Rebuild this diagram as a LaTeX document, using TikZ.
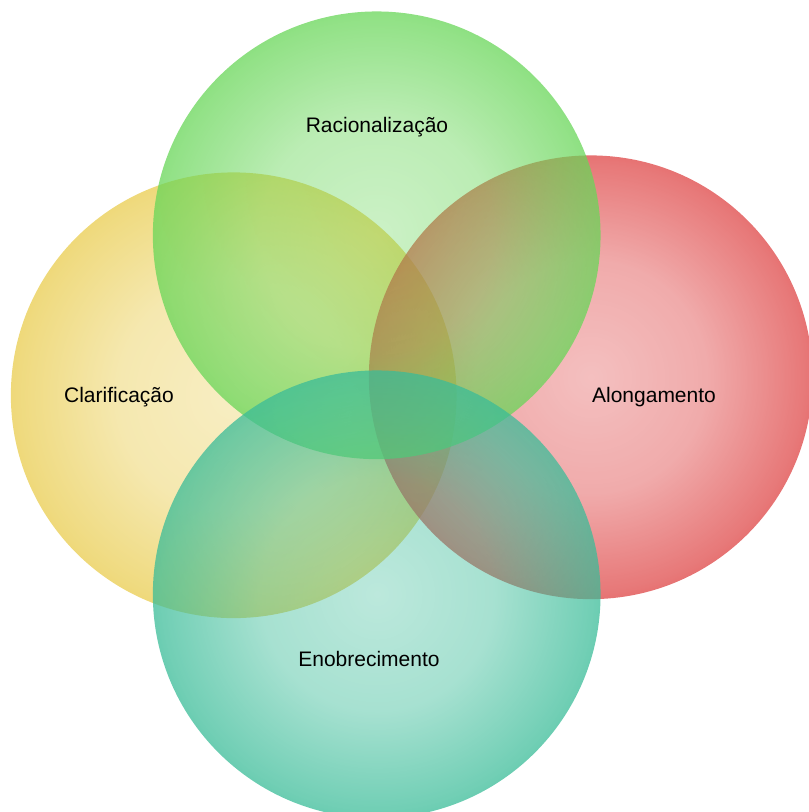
\documentclass[tikz,border=0pt]{standalone}
\usepackage{fontspec}
\setmainfont{Liberation Sans}
\usetikzlibrary{fadings}

% opacity mask: fairly clear in the middle, opaque at the rim
% (a fitted fading puts the disc rim at about 35bp)
\pgfdeclareradialshading{ballmask}{\pgfpointorigin}{%
  color(0bp)=(black!66); color(13bp)=(black!55); color(24bp)=(black!28);
  color(30bp)=(black!6); color(33bp)=(black!0); color(50bp)=(black!0)}
\pgfdeclarefading{ballfade}{\pgfuseshading{ballmask}}

\definecolor{clarY}{RGB}{233,204,78}
\definecolor{racG}{RGB}{104,214,88}
\definecolor{alonR}{RGB}{222,68,68}
\definecolor{enobT}{RGB}{58,188,152}

\tikzset{
  ball/.style={fill=#1, path fading=ballfade, fit fading=true},
  lbl/.style={font=\fontsize{21}{25}\selectfont, text=black, inner sep=0pt}
}

\begin{document}
\begin{tikzpicture}[x=1pt,y=-1pt]
  \useasboundingbox (0,0) rectangle (809,812);
  \clip (0,0) rectangle (809,812);

  % the four overlapping discs, back to front
  \fill[ball=clarY]  (234,395) circle [radius=223pt];
  \fill[ball=alonR]  (591,377) circle [radius=222pt];
  \fill[ball=racG]   (377,235) circle [radius=224pt];
  \fill[ball=enobT]  (377,594) circle [radius=224pt];

  % labels
  \node[lbl] (rac)  at (377,127) {Racionalização};
  \node[lbl] (clar) at (119,397) {Clarificação};
  \node[lbl] (alon) at (654,397) {Alongamento};
  \node[lbl] (enob) at (369,659) {Enobrecimento};
\end{tikzpicture}
\end{document}
